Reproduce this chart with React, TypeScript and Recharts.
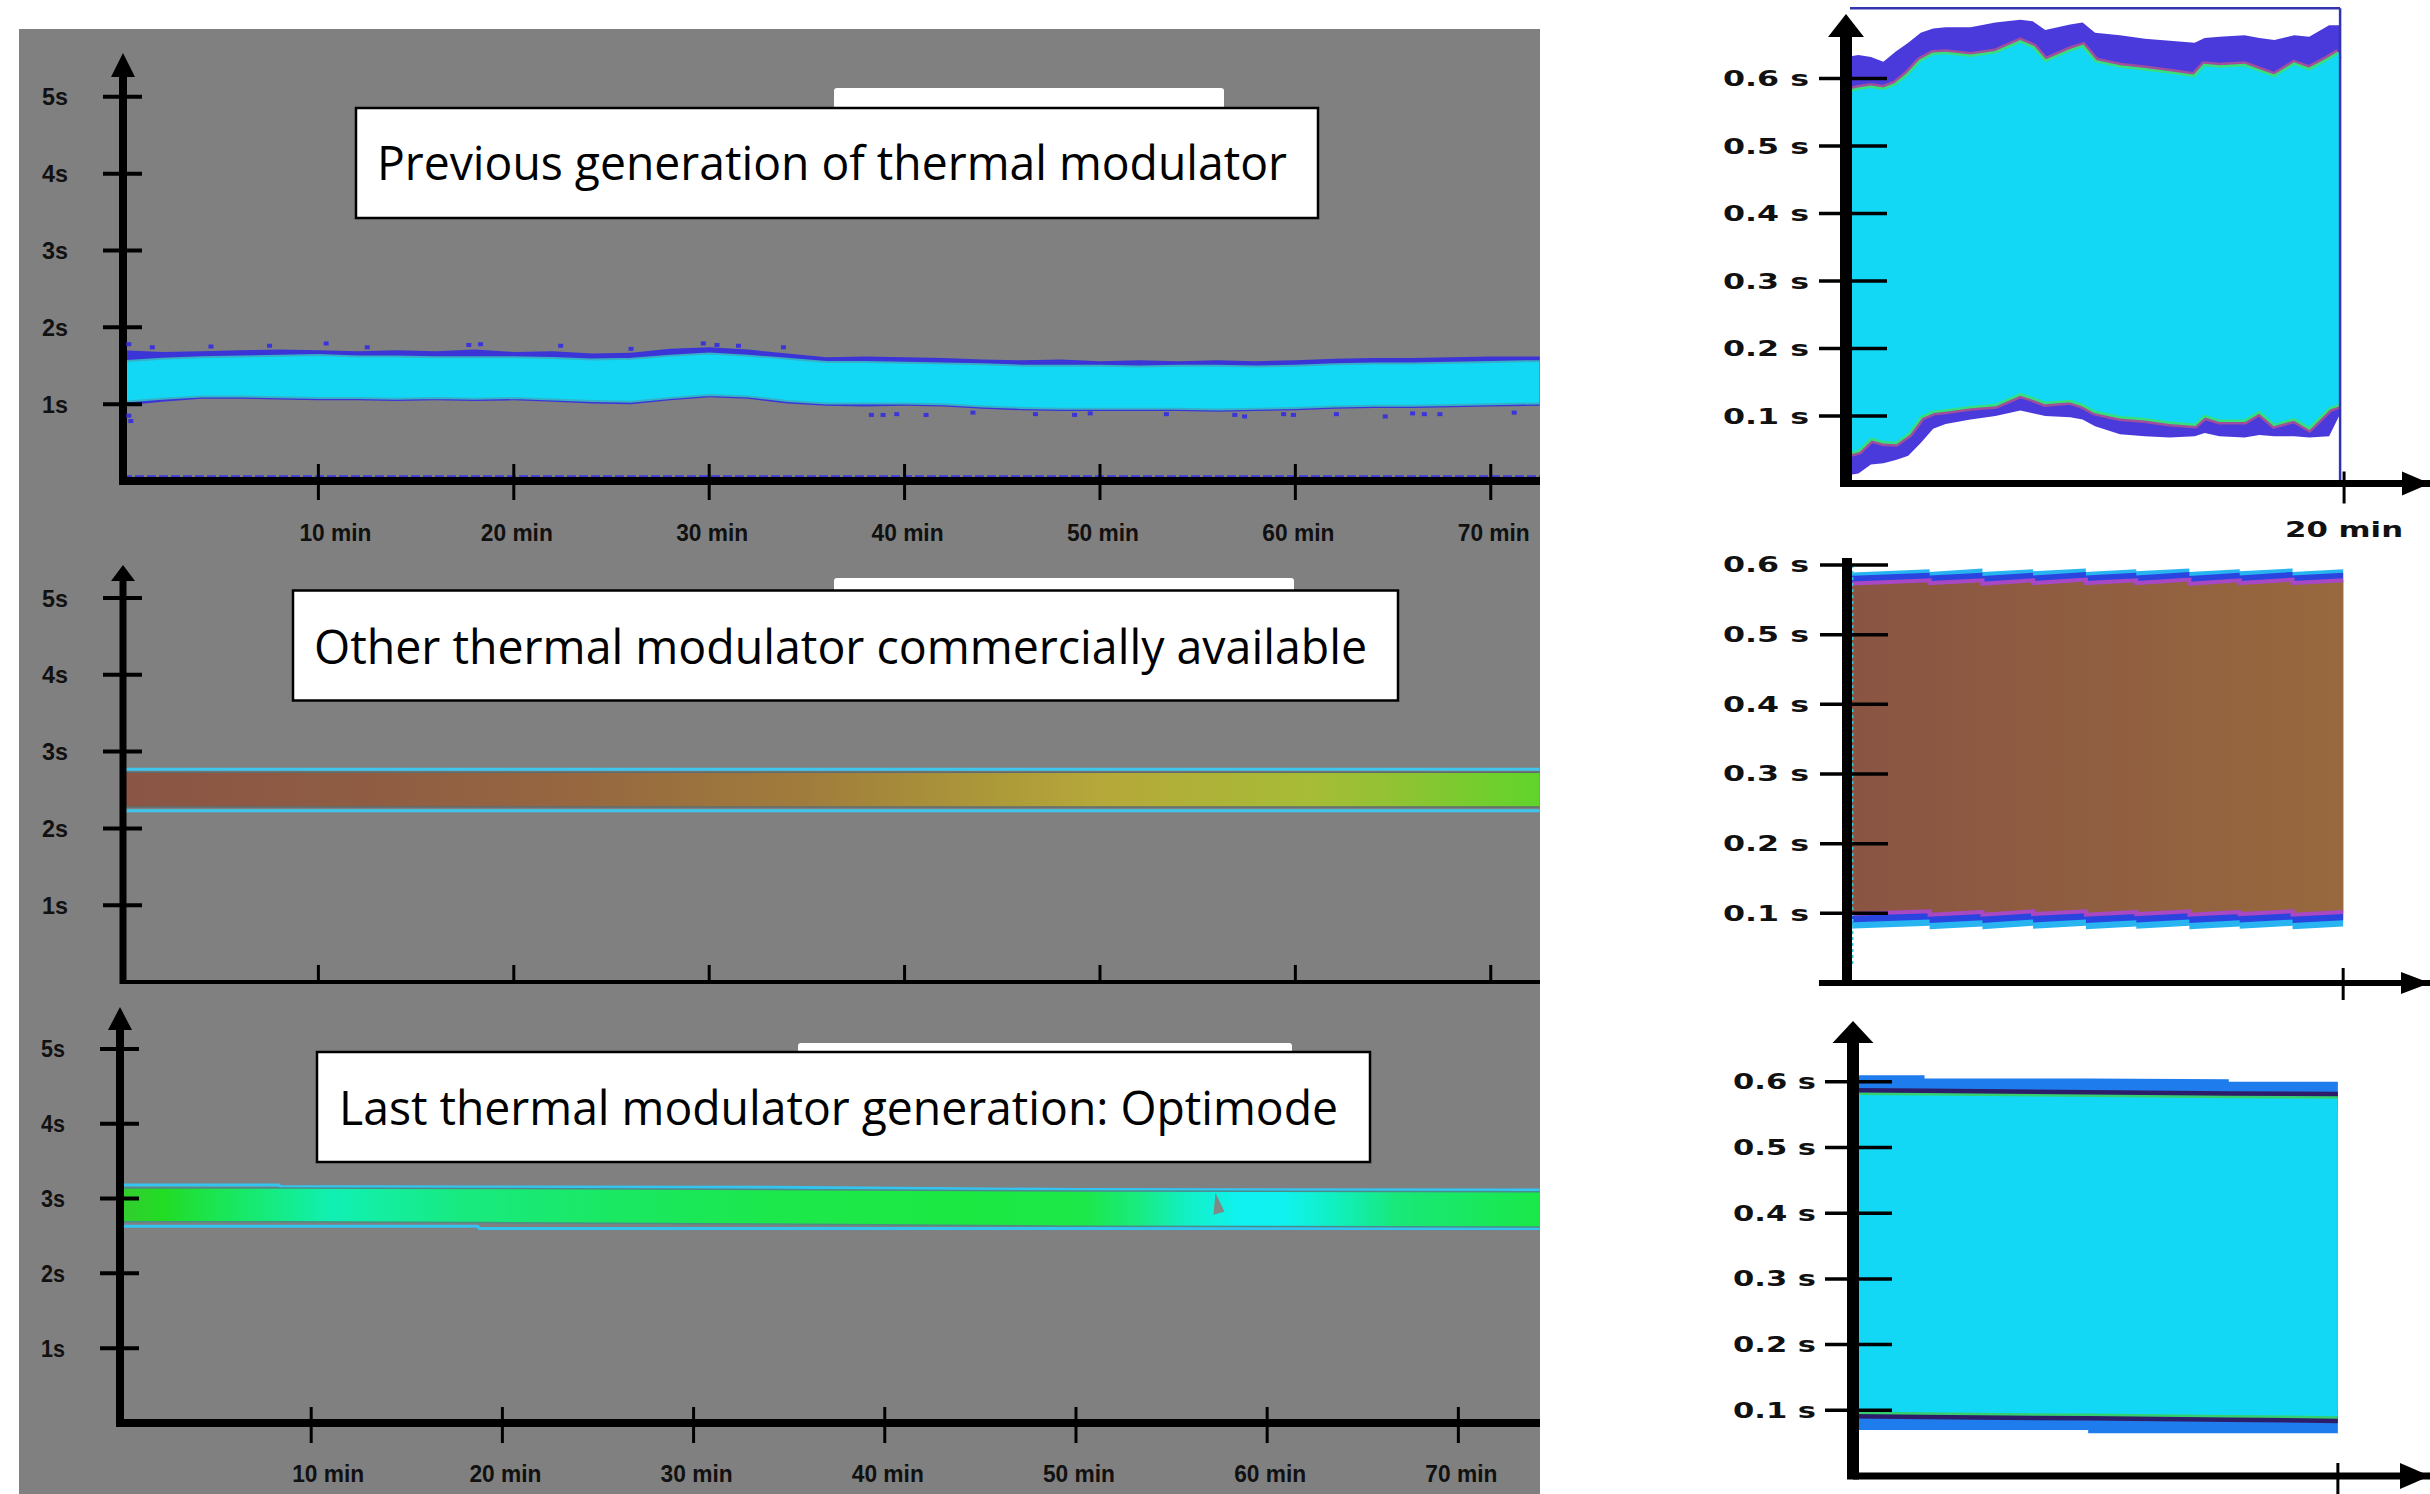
import React from "react";
import { ComposedChart, Area, Scatter, XAxis, YAxis, ReferenceLine, ReferenceDot } from "recharts";

const W = 2430;
const H = 1494;

const LABEL_FONT = "'Liberation Sans', Arial, sans-serif";
const RIGHT_FONT = "'DejaVu Sans', Verdana, sans-serif";
const TITLE_FONT = "'Open Sans', 'Noto Sans', sans-serif";
const CYAN = "#12d8f5";

const minuteTicks = [10, 20, 30, 40, 50, 60, 70];
const secondTicks = [1, 2, 3, 4, 5];
const shortTicks = [0.1, 0.2, 0.3, 0.4, 0.5, 0.6];
const zoomTicks = [20];

// previous generation, 0-72 min (seconds)
const prevTime = [0, 2, 4, 6, 8, 10, 12, 14, 16, 18, 20, 22, 24, 26, 28, 30, 32, 34, 36, 38, 40, 42, 44, 46, 48, 50, 52, 54, 56, 58, 60, 62, 64, 66, 68, 70, 72.5];
const prevHi = [1.56, 1.59, 1.61, 1.62, 1.63, 1.64, 1.62, 1.62, 1.61, 1.61, 1.61, 1.6, 1.58, 1.59, 1.63, 1.66, 1.63, 1.59, 1.55, 1.55, 1.54, 1.53, 1.52, 1.5, 1.5, 1.5, 1.49, 1.5, 1.5, 1.49, 1.5, 1.52, 1.53, 1.53, 1.54, 1.55, 1.56];
const prevLo = [1.03, 1.07, 1.1, 1.1, 1.09, 1.08, 1.08, 1.07, 1.08, 1.07, 1.08, 1.06, 1.04, 1.03, 1.08, 1.12, 1.1, 1.04, 1.01, 1.01, 1.01, 1.0, 0.97, 0.95, 0.94, 0.94, 0.94, 0.94, 0.93, 0.94, 0.95, 0.97, 0.98, 0.98, 0.99, 1.0, 1.01];
const prevHiOuter = [1.7, 1.68, 1.69, 1.7, 1.71, 1.7, 1.69, 1.7, 1.69, 1.71, 1.68, 1.69, 1.66, 1.67, 1.72, 1.74, 1.71, 1.66, 1.61, 1.62, 1.61, 1.6, 1.58, 1.57, 1.58, 1.56, 1.57, 1.56, 1.57, 1.56, 1.57, 1.59, 1.6, 1.6, 1.61, 1.62, 1.62];
const prevLoOuter = [0.98, 1.03, 1.07, 1.07, 1.06, 1.05, 1.05, 1.04, 1.05, 1.04, 1.05, 1.03, 1.01, 1.0, 1.05, 1.09, 1.07, 1.01, 0.98, 0.97, 0.98, 0.97, 0.94, 0.92, 0.91, 0.91, 0.91, 0.91, 0.9, 0.91, 0.92, 0.94, 0.95, 0.95, 0.96, 0.97, 0.98];
const noiseTime = [0.3, 1.5, 4.5, 7.5, 10.4, 12.5, 17.7, 18.3, 22.4, 26, 29.7, 30.4, 31.5, 33.8, 0.3, 0.4, 38.3, 38.9, 39.6, 41.1, 43.5, 46.7, 48.7, 49.5, 53.4, 56.9, 57.4, 59.4, 59.9, 62.1, 64.6, 66, 66.6, 67.4, 71.2];
const noiseValue = [1.78, 1.74, 1.75, 1.76, 1.79, 1.74, 1.77, 1.78, 1.76, 1.72, 1.79, 1.77, 1.76, 1.74, 0.85, 0.78, 0.86, 0.86, 0.87, 0.86, 0.89, 0.87, 0.86, 0.88, 0.87, 0.86, 0.84, 0.87, 0.86, 0.87, 0.84, 0.88, 0.87, 0.87, 0.89];
const prevFloor = 0.06;

// other commercial modulator
const otherTime = [0, 72.5];
const otherLineHi = [2.77, 2.77];
const otherHi = [2.73, 2.73];
const otherLo = [2.28, 2.28];
const otherLineLo = [2.23, 2.23];

// Optimode
const optiTime = [0, 8.3, 8.4, 18.7, 18.8, 34, 50, 74.3];
const optiLineHi = [3.18, 3.18, 3.16, 3.155, 3.155, 3.15, 3.12, 3.115];
const optiHi = [3.14, 3.14, 3.14, 3.135, 3.135, 3.12, 3.1, 3.09];
const optiLo = [2.69, 2.69, 2.69, 2.68, 2.68, 2.66, 2.63, 2.62];
const optiLineLo = [2.63, 2.63, 2.63, 2.63, 2.6, 2.6, 2.6, 2.6];
const notchTime = [57.4];
const notchValue = [2.93];

// right: previous generation, 0-20 min zoom
const zPrevTime = [0, 0.5, 1, 1.5, 2, 2.5, 3, 3.5, 4, 5, 6, 7, 7.5, 8, 9, 9.5, 10, 11, 12, 13, 14, 14.4, 15, 16, 16.6, 17.2, 18, 18.6, 19.4, 19.8];
const zPrevHi = [0.579, 0.583, 0.586, 0.583, 0.59, 0.605, 0.625, 0.635, 0.636, 0.632, 0.637, 0.653, 0.645, 0.624, 0.64, 0.646, 0.624, 0.616, 0.612, 0.607, 0.602, 0.618, 0.616, 0.618, 0.61, 0.602, 0.62, 0.612, 0.628, 0.637];
const zPrevHiOuter = [0.632, 0.635, 0.632, 0.625, 0.64, 0.653, 0.668, 0.674, 0.676, 0.676, 0.683, 0.687, 0.685, 0.672, 0.68, 0.683, 0.668, 0.664, 0.659, 0.656, 0.653, 0.66, 0.662, 0.664, 0.66, 0.657, 0.664, 0.662, 0.679, 0.679];
const zPrevLo = [0.045, 0.05, 0.068, 0.063, 0.062, 0.075, 0.1, 0.108, 0.11, 0.115, 0.118, 0.134, 0.128, 0.121, 0.124, 0.118, 0.108, 0.1, 0.097, 0.092, 0.089, 0.102, 0.095, 0.095, 0.108, 0.089, 0.097, 0.084, 0.113, 0.118];
const zPrevLoOuter = [0.012, 0.015, 0.028, 0.03, 0.035, 0.041, 0.06, 0.081, 0.088, 0.095, 0.1, 0.108, 0.104, 0.1, 0.098, 0.095, 0.085, 0.073, 0.07, 0.068, 0.07, 0.075, 0.07, 0.068, 0.072, 0.07, 0.07, 0.068, 0.07, 0.1];

// right: other commercial, sawtooth per modulation segment
const zOtherTime = [0, 3.33, 3.33, 5.46, 5.46, 7.5, 7.5, 9.63, 9.63, 11.66, 11.66, 13.8, 13.8, 15.83, 15.83, 17.96, 17.96, 20];
const zOtherHiOuter = [0.589, 0.594, 0.59, 0.595, 0.59, 0.594, 0.591, 0.595, 0.59, 0.594, 0.591, 0.595, 0.59, 0.594, 0.591, 0.595, 0.59, 0.594];
const zOtherHiMid = [0.584, 0.589, 0.585, 0.589, 0.584, 0.589, 0.585, 0.59, 0.585, 0.589, 0.585, 0.59, 0.584, 0.589, 0.585, 0.59, 0.585, 0.589];
const zOtherHi = [0.573, 0.578, 0.574, 0.578, 0.573, 0.578, 0.574, 0.579, 0.574, 0.578, 0.574, 0.579, 0.573, 0.578, 0.574, 0.579, 0.574, 0.578];
const zOtherLo = [0.099, 0.103, 0.098, 0.102, 0.098, 0.103, 0.099, 0.103, 0.098, 0.102, 0.099, 0.103, 0.098, 0.102, 0.099, 0.103, 0.098, 0.102];
const zOtherLoMid = [0.087, 0.091, 0.086, 0.09, 0.086, 0.091, 0.087, 0.091, 0.086, 0.09, 0.087, 0.091, 0.086, 0.09, 0.087, 0.091, 0.086, 0.09];
const zOtherLoOuter = [0.078, 0.082, 0.077, 0.081, 0.077, 0.082, 0.078, 0.082, 0.077, 0.081, 0.078, 0.082, 0.077, 0.081, 0.078, 0.082, 0.077, 0.081];

// right: Optimode
const zOptiTime = [0, 2.95, 2.95, 9.7, 9.7, 15.5, 15.5, 20];
const zOptiHiOuter = [0.61, 0.61, 0.605, 0.605, 0.605, 0.604, 0.6, 0.6];
const zOptiHi = [0.58, 0.579, 0.579, 0.577, 0.577, 0.575, 0.575, 0.574];
const zOptiLo = [0.098, 0.097, 0.097, 0.095, 0.095, 0.093, 0.093, 0.091];
const zOptiLoOuter = [0.07, 0.07, 0.07, 0.07, 0.065, 0.065, 0.065, 0.065];

const prevData = prevTime.map((t, i) => ({ t, hi: prevHi[i], lo: prevLo[i], hiO: prevHiOuter[i], loO: prevLoOuter[i] }));
const noiseData = noiseTime.map((t, i) => ({ t, v: noiseValue[i] }));
const otherData = otherTime.map((t, i) => ({ t, lh: otherLineHi[i], hi: otherHi[i], lo: otherLo[i], ll: otherLineLo[i] }));
const optiData = optiTime.map((t, i) => ({ t, lh: optiLineHi[i], hi: optiHi[i], lo: optiLo[i], ll: optiLineLo[i] }));
const notchData = notchTime.map((t, i) => ({ t, v: notchValue[i] }));
const zPrevData = zPrevTime.map((t, i) => ({ t, hi: zPrevHi[i], lo: zPrevLo[i], hiO: zPrevHiOuter[i], loO: zPrevLoOuter[i] }));
const zOtherData = zOtherTime.map((t, i) => ({
  t, hiO: zOtherHiOuter[i], hiM: zOtherHiMid[i], hi: zOtherHi[i], lo: zOtherLo[i], loM: zOtherLoMid[i], loO: zOtherLoOuter[i],
}));
const zOptiData = zOptiTime.map((t, i) => ({ t, hiO: zOptiHiOuter[i], hi: zOptiHi[i], lo: zOptiLo[i], loO: zOptiLoOuter[i] }));

const leftYTick = (gap: number, tw: number) => (p: any) => (
  <g>
    <line x1={p.x - 20} x2={p.x + 19} y1={p.y} y2={p.y} stroke="#000" strokeWidth={4} />
    <text x={p.x - gap - tw} y={p.y + 8.5} fontFamily={LABEL_FONT} fontWeight={700} fontSize={24} fill="#111"
      textLength={tw} lengthAdjust="spacingAndGlyphs">{`${p.payload.value}s`}</text>
  </g>
);

// first label sits closer to its tick than the rest in the original figure
const leftXTick = (up: number, down: number, label: boolean, dy: number) => (p: any) => (
  <g>
    <line x1={p.x} x2={p.x} y1={p.y - up} y2={p.y + down} stroke="#000" strokeWidth={3} />
    {label && (
      <text x={p.x + (p.payload.value === 10 ? -19 : -33)} y={p.y + dy} fontFamily={LABEL_FONT} fontWeight={700} fontSize={24} fill="#111"
        textLength={72} lengthAdjust="spacingAndGlyphs">{`${p.payload.value} min`}</text>
    )}
  </g>
);

const rightYTick = (left: number, right: number, gap: number, tw: number) => (p: any) => (
  <g>
    <line x1={p.x - left} x2={p.x + right} y1={p.y} y2={p.y} stroke="#000" strokeWidth={3.5} />
    <text x={p.x - gap - tw} y={p.y + 7.5} fontFamily={RIGHT_FONT} fontWeight={700} fontSize={21} fill="#111"
      textLength={tw} lengthAdjust="spacingAndGlyphs">{`${p.payload.value.toFixed(1)} s`}</text>
  </g>
);

const rightXTick = (up: number, down: number, label: boolean) => (p: any) => (
  <g>
    <line x1={p.x} x2={p.x} y1={p.y - up} y2={p.y + down} stroke="#000" strokeWidth={3} />
    {label && (
      <text x={p.x - 59} y={p.y + 53} fontFamily={RIGHT_FONT} fontWeight={700} fontSize={21} fill="#111"
        textLength={118} lengthAdjust="spacingAndGlyphs">{`${p.payload.value} min`}</text>
    )}
  </g>
);

const upArrow = (w: number, h: number) => (p: any) => (
  <path d={`M${p.cx},${p.cy} L${p.cx + w / 2},${p.cy + h} L${p.cx - w / 2},${p.cy + h} Z`} fill="#000" />
);
const rightArrow = (w: number, h: number) => (p: any) => (
  <path d={`M${p.cx},${p.cy} L${p.cx - w},${p.cy - h / 2} L${p.cx - w},${p.cy + h / 2} Z`} fill="#000" />
);
const noiseDot = (p: any) => <rect x={p.cx - 2.5} y={p.cy - 2} width={5} height={4} fill="#3b34d8" />;
const notchShape = (p: any) => (
  <path d={`M${p.cx - 2},${p.cy - 11} L${p.cx + 7},${p.cy + 8} L${p.cx - 4},${p.cy + 11} Z`} fill="#7d8a88" />
);

const layer: React.CSSProperties = { position: "absolute", left: 0, top: 0 };

function PrevChart() {
  return (
    <div style={layer}>
      <ComposedChart width={W} height={H} data={prevData} margin={{ top: 53, right: 890, bottom: 1012, left: 122 }}>
        <Area dataKey={(d: any) => [d.loO, d.hiO]} type="linear" fill="#3b34d6" fillOpacity={1} stroke="none" isAnimationActive={false} />
        <Area dataKey={(d: any) => [d.lo, d.hi]} type="linear" fill={CYAN} fillOpacity={1} stroke="#36b0c8" strokeWidth={2} isAnimationActive={false} />
        <Scatter data={noiseData} dataKey="v" shape={noiseDot} isAnimationActive={false} />
        <ReferenceLine y={prevFloor} stroke="#3a3ae0" strokeWidth={2.5} strokeDasharray="9 3" />
        <XAxis type="number" dataKey="t" domain={[0, 72.52]} allowDataOverflow ticks={minuteTicks} interval={0} height={1}
          tickSize={0} tickMargin={0} tickLine={false} axisLine={{ stroke: "#000", strokeWidth: 8 }} tick={leftXTick(17, 19, true, 60)} />
        <YAxis type="number" domain={[0, 5.57]} allowDataOverflow ticks={secondTicks} interval={0} width={1}
          tickSize={0} tickMargin={0} tickLine={false} axisLine={false} tick={leftYTick(55, 26)} />
        <ReferenceLine segment={[{ x: 0, y: -0.052 }, { x: 0, y: 5.42 }]} stroke="#000" strokeWidth={8} ifOverflow="visible" />
        <ReferenceDot x={0} y={5.57} ifOverflow="visible" shape={upArrow(24, 24)} />
      </ComposedChart>
    </div>
  );
}

function OtherChart() {
  return (
    <div style={layer}>
      <ComposedChart width={W} height={H} data={otherData} margin={{ top: 565, right: 890, bottom: 511, left: 122 }}>
        <defs>
          <linearGradient id="otherFill" x1="0" y1="0" x2="1" y2="0">
            <stop offset="0" stopColor="#8a5545" />
            <stop offset="0.17" stopColor="#8f5c43" />
            <stop offset="0.32" stopColor="#966740" />
            <stop offset="0.48" stopColor="#a07c3c" />
            <stop offset="0.62" stopColor="#ad9a39" />
            <stop offset="0.69" stopColor="#b6a83a" />
            <stop offset="0.84" stopColor="#a6bc36" />
            <stop offset="0.91" stopColor="#8cc432" />
            <stop offset="0.95" stopColor="#78cc2e" />
            <stop offset="1" stopColor="#60d42a" />
          </linearGradient>
        </defs>
        <Area dataKey={(d: any) => [d.ll, d.lh]} type="linear" fill="none" stroke="#3ec6ec" strokeWidth={3} isAnimationActive={false} />
        <Area dataKey={(d: any) => [d.lo, d.hi]} type="linear" fill="url(#otherFill)" fillOpacity={1} stroke="#5f6c6c" strokeWidth={1.5} isAnimationActive={false} />
        <XAxis type="number" dataKey="t" domain={[0, 72.52]} allowDataOverflow ticks={minuteTicks} interval={0} height={1}
          tickSize={0} tickMargin={0} tickLine={false} axisLine={{ stroke: "#000", strokeWidth: 4 }} tick={leftXTick(17, 0, false, 0)} />
        <YAxis type="number" domain={[0, 5.43]} allowDataOverflow ticks={secondTicks} interval={0} width={1}
          tickSize={0} tickMargin={0} tickLine={false} axisLine={false} tick={leftYTick(55, 26)} />
        <ReferenceLine segment={[{ x: 0, y: -0.026 }, { x: 0, y: 5.33 }]} stroke="#000" strokeWidth={7} ifOverflow="visible" />
        <ReferenceDot x={0} y={5.43} ifOverflow="visible" shape={upArrow(24, 16)} />
      </ComposedChart>
    </div>
  );
}

function OptiChart() {
  return (
    <div style={layer}>
      <ComposedChart width={W} height={H} data={optiData} margin={{ top: 1007, right: 890, bottom: 70, left: 119 }}>
        <defs>
          <linearGradient id="optiFill" x1="0" y1="0" x2="1" y2="0">
            <stop offset="0" stopColor="#34cc30" />
            <stop offset="0.03" stopColor="#22dc24" />
            <stop offset="0.08" stopColor="#18e860" />
            <stop offset="0.15" stopColor="#10f0b4" />
            <stop offset="0.24" stopColor="#18ea80" />
            <stop offset="0.35" stopColor="#1ae862" />
            <stop offset="0.46" stopColor="#1ce84c" />
            <stop offset="0.6" stopColor="#1ce842" />
            <stop offset="0.68" stopColor="#1ce84a" />
            <stop offset="0.72" stopColor="#18ec84" />
            <stop offset="0.75" stopColor="#12f0c4" />
            <stop offset="0.79" stopColor="#10f2f2" />
            <stop offset="0.82" stopColor="#10f2f0" />
            <stop offset="0.855" stopColor="#10f0c0" />
            <stop offset="0.9" stopColor="#18e878" />
            <stop offset="1" stopColor="#1ae848" />
          </linearGradient>
        </defs>
        <Area dataKey={(d: any) => [d.ll, d.lh]} type="linear" fill="none" stroke="#34c4f0" strokeWidth={3} isAnimationActive={false} />
        <Area dataKey={(d: any) => [d.lo, d.hi]} type="linear" fill="url(#optiFill)" fillOpacity={1} stroke="#4c8c88" strokeWidth={1.5} isAnimationActive={false} />
        <Scatter data={notchData} dataKey="v" shape={notchShape} isAnimationActive={false} />
        <XAxis type="number" dataKey="t" domain={[0, 74.27]} allowDataOverflow ticks={minuteTicks} interval={0} height={1}
          tickSize={0} tickMargin={0} tickLine={false} axisLine={{ stroke: "#000", strokeWidth: 8 }} tick={leftXTick(16, 20, true, 59)} />
        <YAxis type="number" domain={[0, 5.56]} allowDataOverflow ticks={secondTicks} interval={0} width={1}
          tickSize={0} tickMargin={0} tickLine={false} axisLine={false} tick={leftYTick(55, 24)} />
        <ReferenceLine segment={[{ x: 0, y: -0.053 }, { x: 0, y: 5.4 }]} stroke="#000" strokeWidth={8} ifOverflow="visible" />
        <ReferenceDot x={0} y={5.56} ifOverflow="visible" shape={upArrow(24, 23)} />
      </ComposedChart>
    </div>
  );
}

function ZoomPrevChart() {
  return (
    <div style={layer}>
      <ComposedChart width={W} height={H} data={zPrevData} margin={{ top: 14, right: 0, bottom: 1009.5, left: 1845 }}>
        <Area dataKey={(d: any) => [d.loO, d.hiO]} type="linear" fill="#4a3adb" fillOpacity={1} stroke="none" isAnimationActive={false} />
        <Area dataKey={(d: any) => [d.lo, d.hi]} type="linear" fill="none" stroke="#a04f9c" strokeWidth={10} isAnimationActive={false} />
        <Area dataKey={(d: any) => [d.lo, d.hi]} type="linear" fill="none" stroke="#36e07c" strokeWidth={5} isAnimationActive={false} />
        <Area dataKey={(d: any) => [d.lo, d.hi]} type="linear" fill={CYAN} fillOpacity={1} stroke="none" isAnimationActive={false} />
        <ReferenceLine segment={[{ x: 0.16, y: 0.704 }, { x: 19.84, y: 0.704 }]} stroke="#3434b0" strokeWidth={2.5} ifOverflow="visible" />
        <ReferenceLine segment={[{ x: 19.84, y: 0.704 }, { x: 19.84, y: 0.005 }]} stroke="#3434b0" strokeWidth={2.5} ifOverflow="visible" />
        <XAxis type="number" dataKey="t" domain={[0, 23.45]} allowDataOverflow ticks={zoomTicks} interval={0} height={1}
          tickSize={0} tickMargin={0} tickLine={false} axisLine={{ stroke: "#000", strokeWidth: 7 }} tick={rightXTick(12, 20, true)} />
        <YAxis type="number" domain={[0, 0.6956]} allowDataOverflow ticks={shortTicks} interval={0} width={1}
          tickSize={0} tickMargin={0} tickLine={false} axisLine={false} tick={rightYTick(27, 41, 37, 86)} />
        <ReferenceLine segment={[{ x: 0, y: -0.0052 }, { x: 0, y: 0.678 }]} stroke="#000" strokeWidth={12} ifOverflow="visible" />
        <ReferenceDot x={0} y={0.6956} ifOverflow="visible" shape={upArrow(36, 23)} />
        <ReferenceDot x={23.45} y={0} ifOverflow="visible" shape={rightArrow(28, 24)} />
      </ComposedChart>
    </div>
  );
}

function ZoomOtherChart() {
  return (
    <div style={layer}>
      <ComposedChart width={W} height={H} data={zOtherData} margin={{ top: 558, right: 0, bottom: 510, left: 1846 }}>
        <defs>
          <linearGradient id="zOtherFill" x1="0" y1="0" x2="1" y2="0">
            <stop offset="0" stopColor="#8a5443" />
            <stop offset="0.5" stopColor="#905e40" />
            <stop offset="1" stopColor="#98693e" />
          </linearGradient>
        </defs>
        <Area dataKey={(d: any) => [d.loO, d.hiO]} type="linear" fill="#28b4f0" fillOpacity={1} stroke="none" isAnimationActive={false} />
        <Area dataKey={(d: any) => [d.loM, d.hiM]} type="linear" fill="#2a44e0" fillOpacity={1} stroke="none" isAnimationActive={false} />
        <Area dataKey={(d: any) => [d.lo, d.hi]} type="linear" fill="url(#zOtherFill)" fillOpacity={1} stroke="#a848c4" strokeWidth={4} isAnimationActive={false} />
        <ReferenceLine segment={[{ x: 0.2, y: 0.6 }, { x: 0.2, y: 0.023 }]} stroke="#38c4da" strokeWidth={3} strokeDasharray="3 3" ifOverflow="visible" />
        <XAxis type="number" dataKey="t" domain={[0, 23.5]} allowDataOverflow ticks={zoomTicks} interval={0} height={1}
          tickSize={0} tickMargin={0} tickLine={false} axisLine={{ stroke: "#000", strokeWidth: 6 }} tick={rightXTick(15, 17, false)} />
        <YAxis type="number" domain={[0, 0.61]} allowDataOverflow ticks={shortTicks} interval={0} width={1}
          tickSize={0} tickMargin={0} tickLine={false} axisLine={false} tick={rightYTick(27, 41, 38, 86)} />
        <ReferenceLine segment={[{ x: -1.13, y: 0 }, { x: 0, y: 0 }]} stroke="#000" strokeWidth={6} ifOverflow="visible" />
        <ReferenceLine segment={[{ x: 0, y: -0.0043 }, { x: 0, y: 0.61 }]} stroke="#000" strokeWidth={10} ifOverflow="visible" />
        <ReferenceDot x={23.5} y={0} ifOverflow="visible" shape={rightArrow(29, 22)} />
      </ComposedChart>
    </div>
  );
}

function ZoomOptiChart() {
  return (
    <div style={layer}>
      <ComposedChart width={W} height={H} data={zOptiData} margin={{ top: 1021, right: 0, bottom: 17, left: 1852 }}>
        <Area dataKey={(d: any) => [d.loO, d.hiO]} type="linear" fill="#1f7cec" fillOpacity={1} stroke="none" isAnimationActive={false} />
        <Area dataKey={(d: any) => [d.lo, d.hi]} type="linear" fill="none" stroke="#2c1c6a" strokeWidth={14} isAnimationActive={false} />
        <Area dataKey={(d: any) => [d.lo, d.hi]} type="linear" fill="none" stroke="#34d070" strokeWidth={5} isAnimationActive={false} />
        <Area dataKey={(d: any) => [d.lo, d.hi]} type="linear" fill={CYAN} fillOpacity={1} stroke="none" isAnimationActive={false} />
        <XAxis type="number" dataKey="t" domain={[0, 23.8]} allowDataOverflow ticks={zoomTicks} interval={0} height={1}
          tickSize={0} tickMargin={0} tickLine={false} axisLine={{ stroke: "#000", strokeWidth: 7 }} tick={rightXTick(13, 20, false)} />
        <YAxis type="number" domain={[0, 0.6925]} allowDataOverflow ticks={shortTicks} interval={0} width={1}
          tickSize={0} tickMargin={0} tickLine={false} axisLine={false} tick={rightYTick(28, 39, 37, 83)} />
        <ReferenceLine segment={[{ x: 0, y: -0.0053 }, { x: 0, y: 0.674 }]} stroke="#000" strokeWidth={12} ifOverflow="visible" />
        <ReferenceDot x={0} y={0.6925} ifOverflow="visible" shape={upArrow(41, 22)} />
        <ReferenceDot x={23.8} y={0} ifOverflow="visible" shape={rightArrow(30, 26)} />
      </ComposedChart>
    </div>
  );
}

function Titles() {
  const boxes = [
    { bar: [834, 88, 390, 24], box: [356, 108, 962, 110], tx: 377, ty: 180, tw: 910, text: "Previous generation of thermal modulator" },
    { bar: [834, 578, 460, 16], box: [293, 590.5, 1105, 110], tx: 314, ty: 664, tw: 1053, text: "Other thermal modulator commercially available" },
    { bar: [798, 1043, 494, 12], box: [317, 1052, 1053, 110], tx: 339, ty: 1125, tw: 999, text: "Last thermal modulator generation: Optimode" },
  ];
  return (
    <svg width={W} height={H} style={{ ...layer, pointerEvents: "none" }}>
      {boxes.map((b) => (
        <g key={b.text}>
          <rect x={b.bar[0]} y={b.bar[1]} width={b.bar[2]} height={b.bar[3]} rx={3} fill="#fff" />
          <rect x={b.box[0]} y={b.box[1]} width={b.box[2]} height={b.box[3]} fill="#fff" stroke="#000" strokeWidth={2.5} />
          <text x={b.tx} y={b.ty} fontFamily={TITLE_FONT} fontSize={47} fill="#000" textLength={b.tw} lengthAdjust="spacingAndGlyphs">
            {b.text}
          </text>
        </g>
      ))}
    </svg>
  );
}

export default function App() {
  return (
    <div style={{ position: "absolute", left: 0, top: 0, width: W, height: H, background: "#fff", overflow: "hidden" }}>
      <div style={{ position: "absolute", left: 19, top: 29, width: 1521, height: H - 29, background: "#808080" }} />
      <PrevChart />
      <OtherChart />
      <OptiChart />
      <ZoomPrevChart />
      <ZoomOtherChart />
      <ZoomOptiChart />
      <Titles />
    </div>
  );
}
